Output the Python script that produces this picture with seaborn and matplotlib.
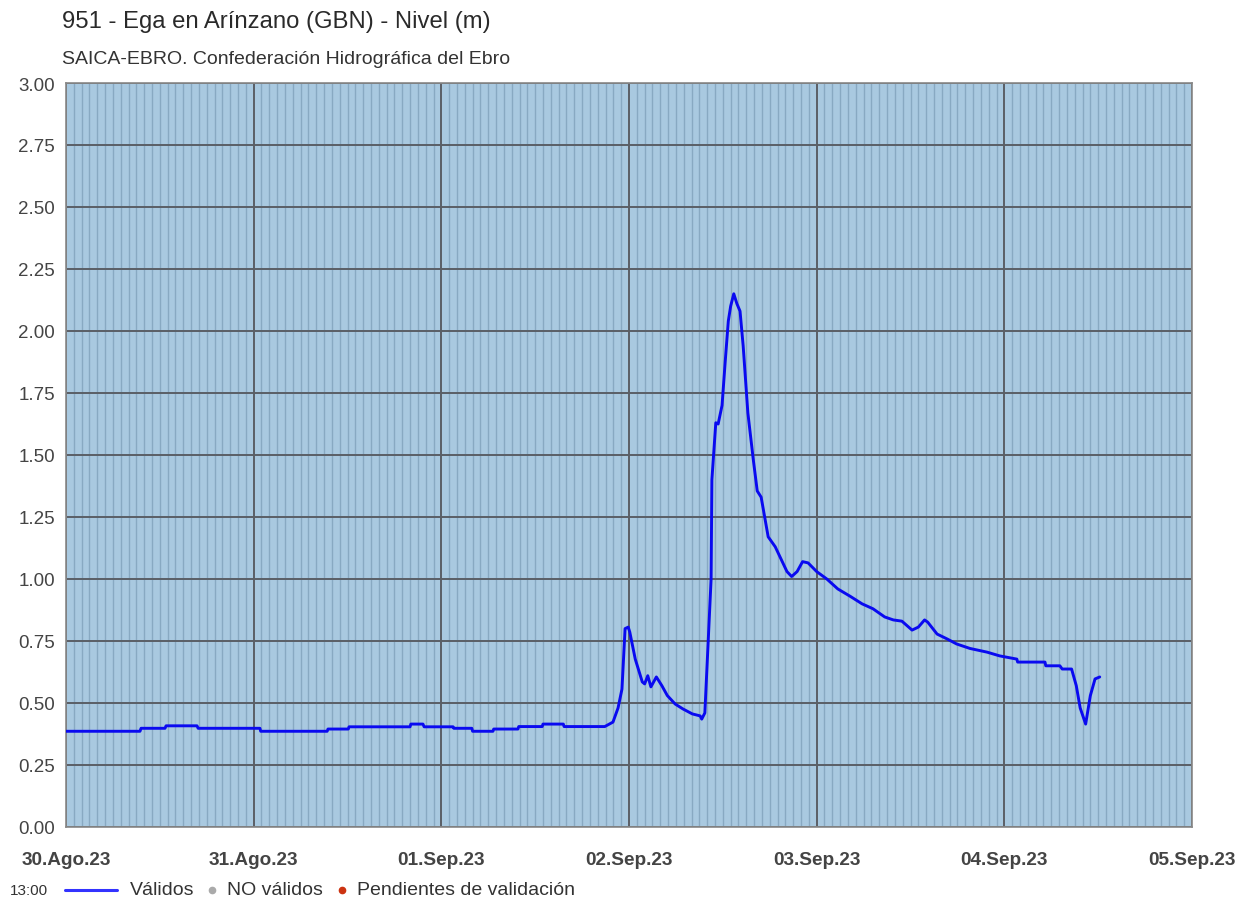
import matplotlib
matplotlib.use("Agg")
import matplotlib.pyplot as plt
import matplotlib.dates as mdates
from matplotlib.lines import Line2D
import seaborn as sns
import pandas as pd
import numpy as np

# ---- data (hours since 30.Ago.23 00:00, level in m) ----
hours = [0, 9.46, 9.6, 12.66, 12.8, 16.75, 16.9, 24.8, 24.9, 33.4, 33.5, 36.1, 36.2,
         44.0, 44.1, 45.65, 45.8, 49.5, 49.6, 51.9, 52.0, 54.6, 54.7, 57.8, 57.9,
         60.9, 61.0, 63.6, 63.7, 68.9, 69.95, 70.6, 71.1, 71.5, 71.9, 72.1, 72.8,
         73.7, 74.0, 74.4, 74.8, 75.5, 76.2, 76.9, 77.9, 78.9, 80.1, 81.1, 81.3,
         81.7, 82.1, 82.5, 82.6, 83.1, 83.4, 83.9, 84.3, 84.7, 85.0, 85.4, 85.8,
         86.2, 86.6, 87.2, 87.9, 88.4, 88.9, 89.8, 90.7, 92.2, 92.8, 93.5, 94.2,
         94.9, 96.0, 97.3, 98.7, 100.3, 101.8, 103.2, 104.7, 105.8, 106.9, 108.2,
         109.0, 109.8, 110.2, 111.4, 112.7, 113.9, 115.6, 117.8, 119.4, 121.6,
         121.7, 125.2, 125.3, 127.1, 127.4, 128.6, 129.2, 129.7, 130.4, 131.0,
         131.6, 132.2]
nivel = [0.386, 0.386, 0.398, 0.398, 0.408, 0.408, 0.398, 0.398, 0.386, 0.386, 0.395, 0.395, 0.404,
         0.404, 0.415, 0.415, 0.404, 0.404, 0.398, 0.398, 0.386, 0.386, 0.395, 0.395, 0.405,
         0.405, 0.415, 0.415, 0.405, 0.405, 0.423, 0.48, 0.556, 0.80, 0.806, 0.786, 0.677,
         0.585, 0.577, 0.61, 0.565, 0.605, 0.57, 0.53, 0.496, 0.476, 0.456, 0.448, 0.435,
         0.46, 0.73, 1.0, 1.40, 1.63, 1.625, 1.70, 1.875, 2.04, 2.10, 2.15, 2.11,
         2.08, 1.94, 1.67, 1.48, 1.355, 1.33, 1.17, 1.13, 1.03, 1.01, 1.03, 1.07,
         1.065, 1.03, 1.0, 0.96, 0.93, 0.90, 0.88, 0.847, 0.835, 0.83, 0.794,
         0.806, 0.835, 0.826, 0.778, 0.758, 0.738, 0.72, 0.705, 0.69, 0.677,
         0.665, 0.665, 0.65, 0.65, 0.637, 0.637, 0.57, 0.48, 0.415, 0.53,
         0.597, 0.605]
x_labels = ["30.Ago.23", "31.Ago.23", "01.Sep.23", "02.Sep.23", "03.Sep.23", "04.Sep.23", "05.Sep.23"]
y_ticks = [0.0, 0.25, 0.5, 0.75, 1.0, 1.25, 1.5, 1.75, 2.0, 2.25, 2.5, 2.75, 3.0]

start = pd.Timestamp("2023-08-30 00:00")
df = pd.DataFrame({"fecha": start + pd.to_timedelta(hours, unit="h"), "nivel": nivel})

sns.set_style("white")
plt.rcParams["font.family"] = ["Liberation Sans", "DejaVu Sans"]

fig = plt.figure(figsize=(12.56, 9.03), dpi=100)
ax = fig.add_axes([66/1256, 1-828/903, (1192-66)/1256, (828-84)/903])
ax.set_facecolor("#a9c9e0")

sns.lineplot(data=df, x="fecha", y="nivel", ax=ax, color="#0a0af0", linewidth=2.1, zorder=5)

end = start + pd.Timedelta(days=6)
ax.set_xlim(start, end)
ax.set_ylim(0, 3)

day_ticks = pd.date_range(start, end, freq="D")
ax.set_xticks(day_ticks)
ax.set_xticklabels(x_labels, fontsize=13.7, fontweight="bold", color="#444444")
ax.xaxis.set_minor_locator(mdates.HourLocator())
ax.set_yticks(y_ticks)
ax.set_yticklabels([f"{v:.2f}" for v in y_ticks], fontsize=13.5, color="#444444")

ax.grid(which="minor", axis="x", color="#88a9c2", linewidth=1.0, zorder=1)
ax.grid(which="major", axis="both", color="#5a5f66", linewidth=1.4, zorder=2)
ax.set_axisbelow(True)
ax.tick_params(axis="both", which="both", length=0)
ax.tick_params(axis="x", pad=17)
ax.tick_params(axis="y", pad=8)
ax.set_xlabel("")
ax.set_ylabel("")
for s in ax.spines.values():
    s.set_color("#888888")
    s.set_linewidth(1.2)

fig.text(62/1256, 1-22/903, "951 - Ega en Arínzano (GBN) - Nivel (m)", fontsize=17.2,
         color="#2a2a2a", va="center", ha="left")
fig.text(62/1256, 1-60/903, "SAICA-EBRO. Confederación Hidrográfica del Ebro", fontsize=14,
         color="#333333", va="center", ha="left")

# legend
ly = 1 - 891/903
fig.text(10/1256, ly, "13:00", fontsize=11, color="#333333", va="center", ha="left")
fig.add_artist(Line2D([65/1256, 117/1256], [ly, ly], color="#3333ff", linewidth=2.2,
                      transform=fig.transFigure))
fig.text(130/1256, ly, "Válidos", fontsize=14, color="#333333", va="center", ha="left")
fig.add_artist(Line2D([212/1256], [ly], marker="o", markersize=4.5, color="#aaaaaa",
                      linestyle="none", transform=fig.transFigure))
fig.text(227/1256, ly, "NO válidos", fontsize=14, color="#333333", va="center", ha="left")
fig.add_artist(Line2D([342/1256], [ly], marker="o", markersize=4.5, color="#cc3311",
                      linestyle="none", transform=fig.transFigure))
fig.text(357/1256, ly, "Pendientes de validación", fontsize=14, color="#333333",
         va="center", ha="left")

fig.savefig("out.png", dpi=100, facecolor="white")
